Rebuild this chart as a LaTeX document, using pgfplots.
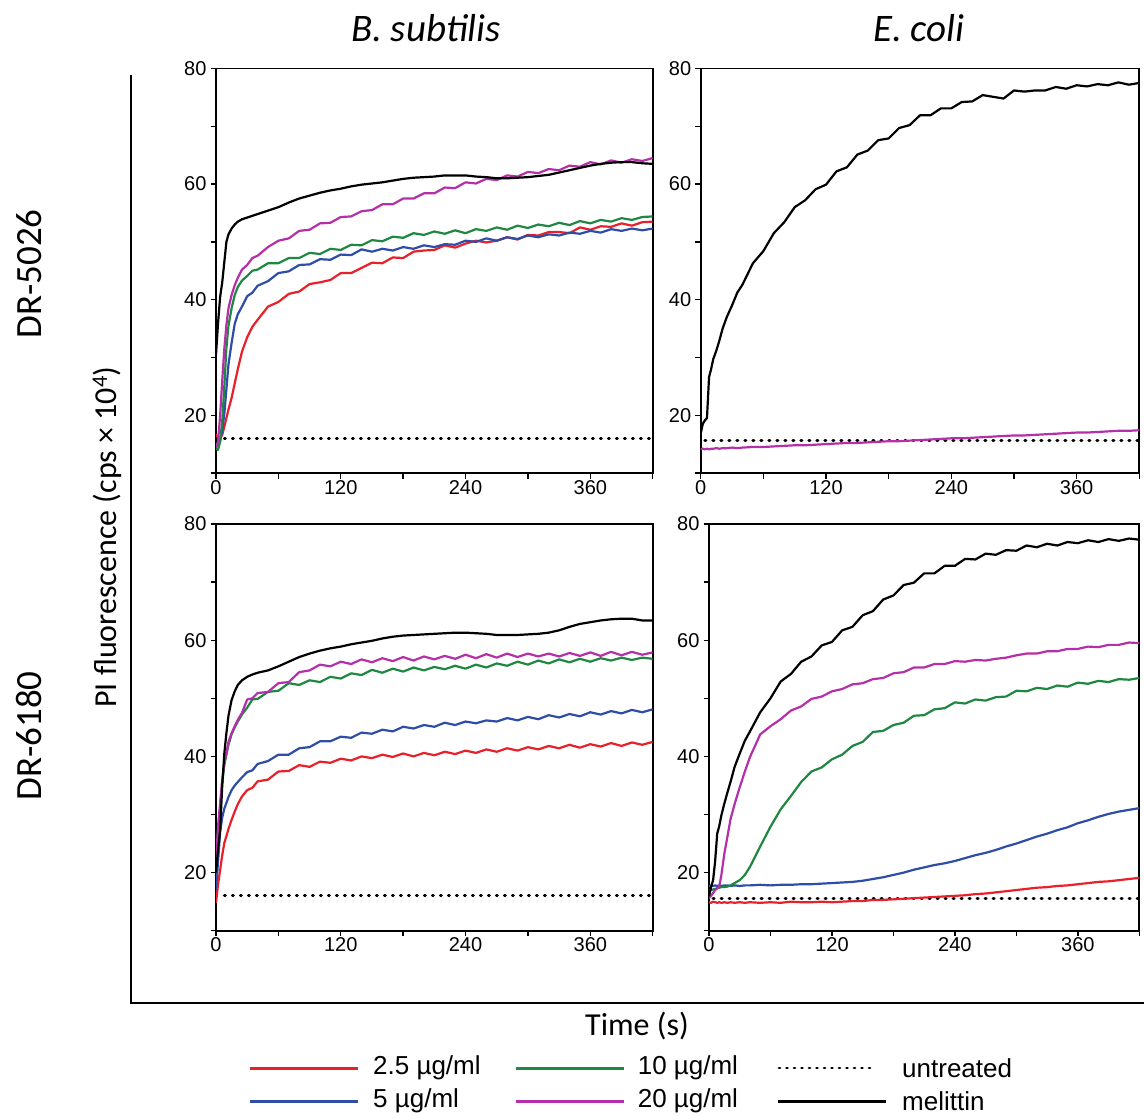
\documentclass[border=0pt]{standalone}
\usepackage{fontspec}
\setmainfont{Carlito}
\newfontfamily\arial{Liberation Sans}
\usepackage{pgfplots}
\usepackage{pgfplotstable}
\pgfplotsset{compat=1.18}

\definecolor{cred}{RGB}{232,32,42}
\definecolor{cblue}{RGB}{46,77,167}
\definecolor{cgreen}{RGB}{30,135,65}
\definecolor{cmag}{RGB}{181,48,168}

% t  r  b  g  m  k  u
\pgfplotstableread{
t r b g m k u
0 16.7 15.0 14.2 14.4 30.5 16.0
2 16.2 14.6 14.0 15.5 36.0 16.0
4 16.0 15.5 15.5 20.0 40.5 16.0
6 16.6 17.5 19.0 26.0 43.0 16.0
8 18.0 20.2 25.0 31.5 46.5 16.0
10 19.5 24.5 31.6 35.6 50.0 16.0
12 21.0 28.8 35.5 38.5 51.3 16.0
15 23.0 32.5 38.5 40.8 52.3 16.0
18 25.5 35.8 40.8 42.5 53.0 16.0
21 28.0 37.5 42.2 43.8 53.5 16.0
25 31.0 38.8 43.3 45.2 53.9 16.0
30 33.5 40.6 44.1 46.0 54.2 16.0
35 35.3 41.2 45.0 47.2 54.5 16.0
40 36.5 42.4 45.2 47.6 54.8 16.0
50 38.8 43.2 46.3 49.1 55.4 16.0
60 39.6 44.6 46.3 50.2 56.0 16.0
70 41.0 44.9 47.2 50.6 56.8 16.0
80 41.4 46.0 47.2 51.9 57.5 16.0
90 42.7 46.1 48.1 52.1 58.0 16.0
100 43.0 47.0 47.9 53.2 58.5 16.0
110 43.4 46.9 48.8 53.3 58.9 16.0
120 44.6 47.8 48.6 54.3 59.2 16.0
130 44.6 47.7 49.5 54.4 59.6 16.0
140 45.5 48.7 49.4 55.3 59.9 16.0
150 46.4 48.3 50.3 55.5 60.1 16.0
160 46.3 48.8 50.1 56.5 60.3 16.0
170 47.3 48.5 50.9 56.5 60.6 16.0
180 47.2 49.1 50.7 57.5 60.9 16.0
190 48.3 48.8 51.5 57.5 61.1 16.0
200 48.5 49.4 51.2 58.4 61.2 16.0
210 48.6 49.1 51.8 58.4 61.3 16.0
220 49.4 49.6 51.4 59.4 61.5 16.0
230 49.0 49.5 52.0 59.3 61.5 16.0
240 49.7 50.2 51.5 60.3 61.5 16.0
250 50.2 50.0 52.2 60.1 61.3 16.0
260 49.9 50.6 51.9 60.9 61.2 16.0
270 50.2 50.2 52.5 60.7 61.0 16.0
280 50.8 50.8 52.1 61.5 61.0 16.0
290 50.4 50.5 52.8 61.3 61.1 16.0
300 51.2 51.1 52.4 62.1 61.2 16.0
310 51.1 50.8 53.0 61.9 61.4 16.0
320 51.7 51.3 52.7 62.6 61.6 16.0
330 51.7 51.1 53.3 62.4 62.0 16.0
340 51.5 51.6 52.9 63.2 62.4 16.0
350 52.5 51.4 53.6 63.0 62.8 16.0
360 52.1 51.9 53.2 63.8 63.2 16.0
370 52.7 51.6 53.8 63.4 63.5 16.0
380 52.6 52.2 53.5 64.1 63.7 16.0
390 53.2 51.9 54.1 63.7 63.8 16.0
400 52.8 52.3 53.8 64.3 63.8 16.0
410 53.4 52.0 54.3 64.0 63.6 16.0
420 53.5 52.3 54.4 64.5 63.5 16.0
}\tTL

\pgfplotstableread{
t k m u
0 16.8 14.1 15.6
2 18.5 14.2 15.6
4 19.1 14.1 15.6
6 19.5 14.2 15.6
8 26.6 14.1 15.6
10 28.0 14.2 15.6
12 29.7 14.2 15.6
15 31.2 14.3 15.6
18 33.0 14.2 15.6
21 35.0 14.3 15.6
25 37.0 14.3 15.6
30 39.0 14.4 15.6
35 41.2 14.3 15.6
40 42.6 14.4 15.6
50 46.3 14.5 15.6
60 48.4 14.5 15.6
70 51.5 14.6 15.6
80 53.4 14.7 15.6
90 56.0 14.8 15.6
100 57.2 14.8 15.6
110 59.1 14.9 15.6
120 59.9 15.0 15.6
130 62.2 15.1 15.6
140 62.9 15.2 15.6
150 65.1 15.2 15.6
160 65.8 15.3 15.6
170 67.6 15.4 15.6
180 67.9 15.5 15.6
190 69.7 15.5 15.6
200 70.2 15.6 15.6
210 71.9 15.7 15.6
220 71.9 15.8 15.6
230 73.1 15.9 15.6
240 73.1 16.0 15.6
250 74.2 16.0 15.6
260 74.3 16.1 15.6
270 75.4 16.2 15.6
280 75.1 16.3 15.6
290 74.8 16.4 15.6
300 76.2 16.5 15.6
310 76.0 16.5 15.6
320 76.2 16.6 15.6
330 76.2 16.7 15.6
340 76.8 16.8 15.6
350 76.5 16.9 15.6
360 77.1 17.0 15.6
370 76.9 17.0 15.6
380 77.3 17.1 15.6
390 77.1 17.2 15.6
400 77.6 17.3 15.6
410 77.2 17.3 15.6
420 77.5 17.4 15.6
}\tTR

\pgfplotstableread{
t r b g m k u
0 14.8 17.0 21.0 22.0 20.0 16.0
2 18.0 22.0 27.0 28.0 24.0 16.0
4 20.5 27.0 31.5 32.0 27.4 16.0
6 23.0 29.5 35.5 36.0 35.0 16.0
8 25.1 31.0 38.5 39.0 40.5 16.0
10 26.3 32.0 40.3 40.5 44.0 16.0
12 27.5 33.0 42.0 42.5 47.0 16.0
15 29.1 34.2 43.8 44.0 49.7 16.0
18 30.5 35.0 45.0 45.2 51.2 16.0
21 31.8 35.6 46.0 46.3 52.3 16.0
25 33.1 36.4 47.2 47.5 53.1 16.0
30 34.2 37.3 48.4 49.8 53.7 16.0
35 34.6 37.6 49.8 50.0 54.1 16.0
40 35.7 38.7 49.9 50.9 54.4 16.0
50 36.0 39.2 51.1 51.1 54.8 16.0
60 37.4 40.3 51.3 52.6 55.5 16.0
70 37.5 40.3 52.6 52.8 56.3 16.0
80 38.5 41.4 52.3 54.5 57.1 16.0
90 38.2 41.6 53.1 54.8 57.7 16.0
100 39.1 42.6 52.8 55.8 58.2 16.0
110 38.9 42.6 53.7 55.5 58.6 16.0
120 39.6 43.4 53.4 56.3 58.9 16.0
130 39.3 43.2 54.3 55.9 59.3 16.0
140 40.0 44.1 54.0 56.7 59.6 16.0
150 39.7 43.9 54.9 56.2 59.9 16.0
160 40.3 44.6 54.4 56.9 60.3 16.0
170 39.9 44.3 55.1 56.4 60.6 16.0
180 40.5 45.1 54.6 57.1 60.8 16.0
190 40.0 44.8 55.3 56.5 60.9 16.0
200 40.6 45.4 54.8 57.2 61.0 16.0
210 40.2 45.1 55.4 56.7 61.1 16.0
220 40.8 45.8 55.0 57.3 61.2 16.0
230 40.4 45.4 55.6 56.8 61.3 16.0
240 41.0 46.0 55.1 57.5 61.3 16.0
250 40.6 45.7 55.8 56.9 61.2 16.0
260 41.2 46.2 55.3 57.6 61.1 16.0
270 40.8 46.0 56.0 57.0 60.9 16.0
280 41.4 46.6 55.6 57.7 60.9 16.0
290 41.0 46.2 56.3 57.1 60.9 16.0
300 41.6 46.8 55.8 57.7 61.0 16.0
310 41.2 46.4 56.5 57.2 61.1 16.0
320 41.8 47.1 56.0 57.7 61.3 16.0
330 41.4 46.7 56.7 57.2 61.7 16.0
340 42.0 47.3 56.2 57.8 62.3 16.0
350 41.5 46.9 56.8 57.3 62.8 16.0
360 42.1 47.6 56.3 57.9 63.1 16.0
370 41.7 47.2 56.9 57.3 63.4 16.0
380 42.3 47.8 56.5 58.0 63.6 16.0
390 41.8 47.4 57.0 57.4 63.7 16.0
400 42.4 48.0 56.6 58.0 63.7 16.0
410 42.0 47.6 57.0 57.5 63.4 16.0
420 42.5 48.1 56.8 57.9 63.4 16.0
}\tBL

\pgfplotstableread{
t r b g m k u
0 14.9 17.7 16.9 15.6 15.9 15.6
2 14.8 17.8 17.0 16.0 17.5 15.6
4 15.0 17.7 17.1 16.5 18.7 15.6
6 14.9 17.8 17.2 17.0 22.0 15.6
8 14.8 17.7 17.3 17.3 26.7 15.6
10 14.9 17.8 17.4 17.6 28.0 15.6
12 14.8 17.7 17.5 19.5 29.8 15.6
15 14.9 17.8 17.5 23.3 31.9 15.6
18 14.8 17.8 17.6 26.2 33.8 15.6
21 14.9 17.7 17.8 29.2 35.6 15.6
25 14.8 17.8 18.2 31.8 38.2 15.6
30 14.9 17.7 18.7 34.7 40.5 15.6
35 14.8 17.8 19.6 37.4 42.7 15.6
40 14.9 17.8 21.0 39.9 44.3 15.6
50 14.8 17.9 24.5 43.8 47.6 15.6
60 14.9 17.8 27.9 45.2 50.0 15.6
70 14.8 17.9 30.9 46.4 52.9 15.6
80 15.0 17.9 33.2 47.9 54.2 15.6
90 14.9 18.0 35.6 48.6 56.3 15.6
100 14.9 18.0 37.4 49.9 57.2 15.6
110 15.0 18.1 38.1 50.3 59.1 15.6
120 14.9 18.2 39.5 51.2 59.7 15.6
130 15.0 18.3 40.3 51.6 61.7 15.6
140 15.1 18.4 41.8 52.4 62.3 15.6
150 15.1 18.6 42.5 52.6 64.3 15.6
160 15.3 18.9 44.2 53.3 65.0 15.6
170 15.3 19.2 44.4 53.5 67.0 15.6
180 15.4 19.6 45.4 54.3 67.7 15.6
190 15.5 20.0 45.8 54.5 69.5 15.6
200 15.6 20.5 47.0 55.3 69.9 15.6
210 15.7 20.9 47.1 55.3 71.5 15.6
220 15.8 21.3 48.1 55.9 71.5 15.6
230 15.9 21.6 48.3 55.9 72.8 15.6
240 16.0 22.0 49.3 56.4 72.8 15.6
250 16.1 22.5 49.1 56.3 74.0 15.6
260 16.3 23.0 49.8 56.6 73.9 15.6
270 16.4 23.4 49.6 56.5 74.9 15.6
280 16.6 23.9 50.2 56.8 74.7 15.6
290 16.8 24.5 50.3 57.0 75.5 15.6
300 17.0 25.0 51.3 57.4 75.4 15.6
310 17.2 25.6 51.2 57.7 76.3 15.6
320 17.4 26.2 51.8 57.7 76.0 15.6
330 17.5 26.7 51.6 58.1 76.6 15.6
340 17.7 27.3 52.2 58.1 76.3 15.6
350 17.8 27.8 52.0 58.5 76.9 15.6
360 18.0 28.5 52.7 58.5 76.7 15.6
370 18.2 29.0 52.5 58.9 77.2 15.6
380 18.4 29.6 53.0 58.8 76.9 15.6
390 18.5 30.1 52.8 59.2 77.4 15.6
400 18.7 30.5 53.3 59.2 77.1 15.6
410 18.9 30.8 53.2 59.6 77.5 15.6
420 19.1 31.1 53.5 59.5 77.3 15.6
}\tBR

\pgfplotsset{
  panel/.style={
    scale only axis,
    xmin=0, xmax=420, ymin=10, ymax=80,
    xtick={0,120,240,360}, minor xtick={60,180,300,420},
    ytick={20,40,60,80}, minor ytick={10,30,50,70},
    tick align=outside, xtick pos=bottom, ytick pos=left,
    major tick length=5.5pt, minor tick length=5.5pt,
    axis line style={line width=1.8pt},
    every tick/.style={black, line width=1.4pt},
    tick label style={font=\arial\fontsize{20}{20}\selectfont},
    /pgf/number format/assume math mode=true,
    xticklabel style={yshift=2pt},
    yticklabel style={xshift=-0.5pt},
  },
  crv/.style={line width=2.2pt, line join=round},
  dots/.style={line width=3pt, black, line cap=round, dash pattern=on 1pt off 7pt},
}

\begin{document}
\begin{tikzpicture}
\path[use as bounding box] (0,0) rectangle (1144pt,-1117pt);

% Top-left: B. subtilis, DR-5026
\begin{axis}[panel, at={(216pt,-68.5pt)}, anchor=north west, width=436.7pt, height=404.5pt]
\addplot[dots] table[x=t,y=u, restrict x to domain=8:420] {\tTL};
\addplot[crv, cred] table[x=t,y=r] {\tTL};
\addplot[crv, cblue] table[x=t,y=b] {\tTL};
\addplot[crv, cgreen] table[x=t,y=g] {\tTL};
\addplot[crv, cmag] table[x=t,y=m] {\tTL};
\addplot[crv, black] table[x=t,y=k] {\tTL};
\end{axis}

% Top-right: E. coli, DR-5026
\begin{axis}[panel, at={(700.7pt,-68.5pt)}, anchor=north west, width=438.6pt, height=404.5pt]
\addplot[dots] table[x=t,y=u, restrict x to domain=4:420] {\tTR};
\addplot[crv, cmag] table[x=t,y=m] {\tTR};
\addplot[crv, black] table[x=t,y=k] {\tTR};
\end{axis}

% Bottom-left: B. subtilis, DR-6180
\begin{axis}[panel, at={(216pt,-524pt)}, anchor=north west, width=436.7pt, height=406.7pt]
\addplot[dots] table[x=t,y=u, restrict x to domain=8:420] {\tBL};
\addplot[crv, cred] table[x=t,y=r] {\tBL};
\addplot[crv, cblue] table[x=t,y=b] {\tBL};
\addplot[crv, cgreen] table[x=t,y=g] {\tBL};
\addplot[crv, cmag] table[x=t,y=m] {\tBL};
\addplot[crv, black] table[x=t,y=k] {\tBL};
\end{axis}

% Bottom-right: E. coli, DR-6180
\begin{axis}[panel, at={(709pt,-524pt)}, anchor=north west, width=430.3pt, height=406.7pt]
\addplot[dots] table[x=t,y=u, restrict x to domain=4:420] {\tBR};
\addplot[crv, cred] table[x=t,y=r] {\tBR};
\addplot[crv, cblue] table[x=t,y=b] {\tBR};
\addplot[crv, cgreen] table[x=t,y=g] {\tBR};
\addplot[crv, cmag] table[x=t,y=m] {\tBR};
\addplot[crv, black] table[x=t,y=k] {\tBR};
\end{axis}

% outer L frame
\draw[line width=2pt] (131pt,-75pt) -- (131pt,-1003pt) -- (1144pt,-1003pt);

% titles and labels
\node[font=\fontsize{39}{39}\selectfont\itshape] at (426pt,-28pt) {B. subtilis};
\node[font=\fontsize{39}{39}\selectfont\itshape] at (919pt,-28pt) {E. coli};
\node[font=\fontsize{37}{37}\selectfont, rotate=90] at (29pt,-274pt) {DR-5026};
\node[font=\fontsize{37}{37}\selectfont, rotate=90] at (29pt,-736pt) {DR-6180};
\node[font=\fontsize{32}{32}\selectfont, rotate=90] at (107pt,-537pt) {PI fluorescence (cps × 10\textsuperscript{4})};
\node[font=\fontsize{32}{32}\selectfont] at (637pt,-1026pt) {Time (s)};

% legend
\begin{scope}[every node/.style={font=\arial\fontsize{26}{26}\selectfont, anchor=west, inner sep=0pt}]
\draw[line width=3pt, cred] (250pt,-1068pt) -- (358pt,-1068pt);
\node at (373pt,-1068pt) {2.5 µg/ml};
\draw[line width=3pt, cblue] (250pt,-1101pt) -- (358pt,-1101pt);
\node at (373pt,-1101pt) {5 µg/ml};
\draw[line width=3pt, cgreen] (516pt,-1068pt) -- (624pt,-1068pt);
\node at (637.6pt,-1068pt) {10 µg/ml};
\draw[line width=3pt, cmag] (516pt,-1101pt) -- (624pt,-1101pt);
\node at (637.6pt,-1101pt) {20 µg/ml};
\draw[line width=2.8pt, black, line cap=round, dash pattern=on 1pt off 6.5pt] (779pt,-1068pt) -- (871pt,-1068pt);
\node at (902pt,-1068pt) {untreated};
\draw[line width=3pt, black] (778pt,-1101pt) -- (886pt,-1101pt);
\node at (902pt,-1101pt) {melittin};
\end{scope}
\end{tikzpicture}
\end{document}
